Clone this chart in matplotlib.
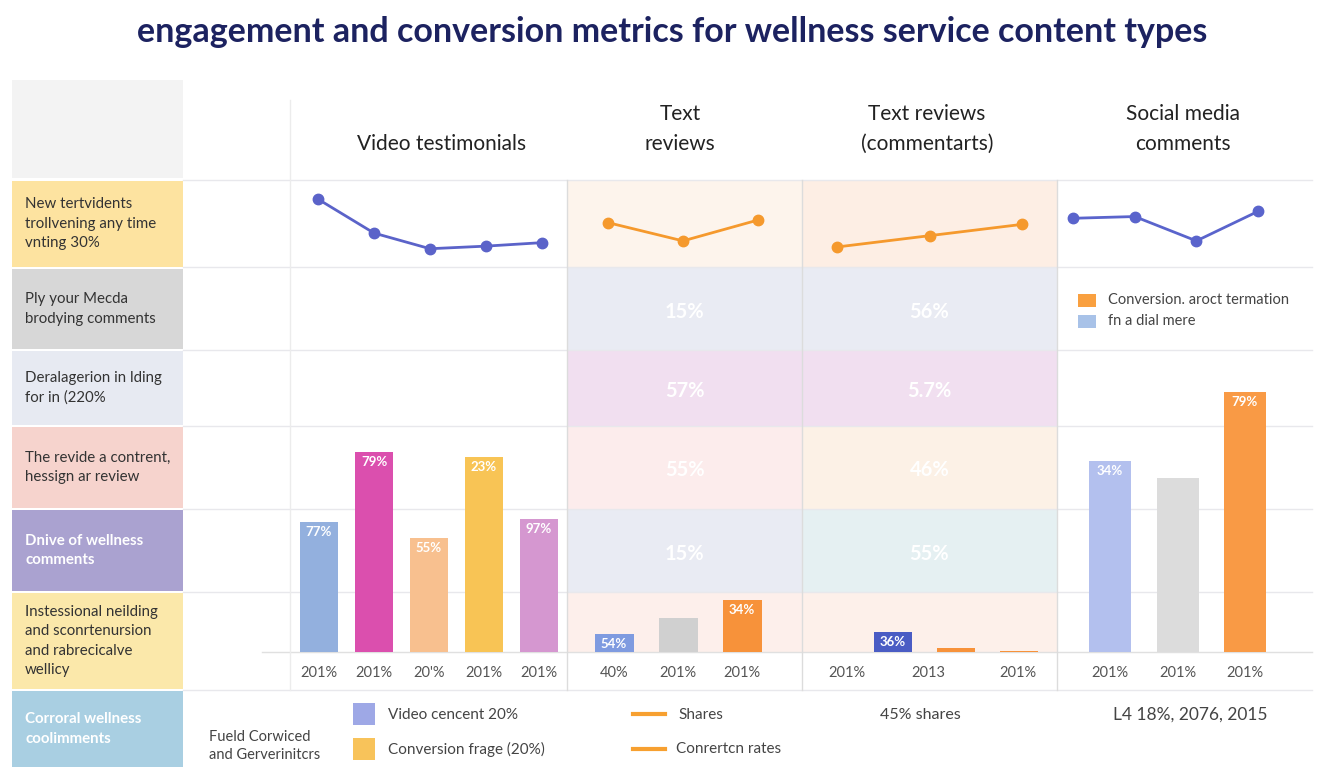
import matplotlib.pyplot as plt
from matplotlib.patches import Rectangle

W, H = 1344, 768

plt.rcParams['font.family'] = ['Lato', 'DejaVu Sans']

title = "engagement and conversion metrics for wellness service content types"

row_labels = [
    "New tertvidents\ntrollvening any time\nvnting 30%",
    "Ply your Mecda\nbrodying comments",
    "Deralagerion in lding\nfor in (220%",
    "The revide a contrent,\nhessign ar review",
    "Dnive of wellness\ncomments",
    "Instessional neilding\nand sconrtenursion\nand rabrecicalve\nwellicy",
    "Corroral wellness\ncoolimments",
]
row_colors = ["#fde3a0", "#d7d7d7", "#e7eaf2", "#f6d3cd", "#aaa2d0", "#fbe8aa", "#a9cfe2"]
row_text_white = [False, False, False, False, True, False, True]

col_headers = ["Video testimonials", "Text\nreviews", "Text reviews\n(commentarts)", "Social media\ncomments"]

# row 1: small trend lines
video_line = [78, 39, 21, 24, 28]
text_line = [51, 30, 54]
comment_line = [23, 36, 49]
social_line = [56, 58, 30, 64]

# rows 2-5: shaded percentage cells
text_cells = ["15%", "57%", "55%", "15%"]
comment_cells = ["56%", "5.7%", "46%", "55%"]

# bottom bars
video_bars = [50, 77, 44, 75, 51]
video_bar_labels = ["77%", "79%", "55%", "23%", "97%"]
video_ticks = ["201%", "201%", "20'%", "201%", "201%"]
video_colors = ["#93b0de", "#db4fae", "#f8c08f", "#f8c455", "#d597d0"]

text_bars = [7, 13, 20]
text_bar_labels = ["54%", "", "34%"]
text_ticks = ["40%", "201%", "201%"]
text_colors = ["#7f9be0", "#d0d0d0", "#f7923a"]

comment_bars = [7.7, 1.5, 0.5]
comment_bar_labels = ["36%", "", ""]
comment_ticks = ["201%", "2013", "201%"]
comment_colors = ["#4a5cc4", "#f7923a", "#f7923a"]

social_bars = [73.5, 67, 100]
social_bar_labels = ["34%", "", "79%"]
social_ticks = ["201%", "201%", "201%"]
social_colors = ["#b3c0ee", "#dcdcdc", "#f99a45"]

fig = plt.figure(figsize=(W / 100, H / 100), dpi=100)
bg = fig.add_axes([0, 0, 1, 1], zorder=0)
bg.set_xlim(0, W)
bg.set_ylim(H, 0)
bg.axis("off")

fig.text(0.5, 1 - 32 / H, title, ha="center", va="center", fontsize=24.5,
         fontweight="bold", color="#1c2260")

# left label column
rows_y = [180, 268, 350, 426, 509, 592, 690, 768]
bg.add_patch(Rectangle((12, 80), 171, 98, color="#f3f3f3", lw=0))
for i, lab in enumerate(row_labels):
    y0, y1 = rows_y[i], rows_y[i + 1]
    bg.add_patch(Rectangle((12, y0 + 1), 171, y1 - y0 - 2, color=row_colors[i], lw=0))
    white = row_text_white[i]
    bg.text(25, (y0 + y1) / 2, lab, ha="left", va="center", fontsize=10.8,
            color="white" if white else "#333333",
            fontweight="bold" if white else "normal", linespacing=1.5)

cols_x = [290, 567, 802, 1057, 1312]

# shaded cells in the text review columns
cell_bg = [
    ["#fdf4ec", "#e9ebf3", "#f1dff0", "#fcecec", "#e9ebf3", "#fdefeb"],
    ["#fdeee4", "#e9ebf3", "#f1dff0", "#fcf1e6", "#e5f0f2", "#fdf0ea"],
]
cell_rows = [180, 268, 350, 426, 509, 592, 652]
for c, shades in enumerate(cell_bg):
    x0, x1 = cols_x[c + 1], cols_x[c + 2]
    for r, sh in enumerate(shades):
        y0, y1 = cell_rows[r], cell_rows[r + 1]
        bg.add_patch(Rectangle((x0, y0), x1 - x0, y1 - y0, color=sh, lw=0))
for c, vals in enumerate([text_cells, comment_cells]):
    xc = (cols_x[c + 1] + cols_x[c + 2]) / 2
    for r, v in enumerate(vals):
        yc = (cell_rows[r + 1] + cell_rows[r + 2]) / 2 + 3
        bg.text(xc, yc, v, ha="center", va="center", fontsize=14.5,
                fontweight="bold", color="white")

# grid lines
for y in [180, 267, 350, 426, 509, 592, 690]:
    bg.plot([183, 1312], [y, y], color="#e8e8ec", lw=1)
bg.plot([262, 1312], [652, 652], color="#e0e0e0", lw=1)
bg.plot([290, 290], [100, 690], color="#ececec", lw=1)
for x in cols_x[1:4]:
    bg.plot([x, x], [180, 690], color="#dcdcdc", lw=1)

# column headers
header_pos = [(442, 144), (680, 129), (927, 129), (1183, 129)]
for (x, y), h in zip(header_pos, col_headers):
    bg.text(x, y, h, ha="center", va="center", fontsize=15, color="#222222",
            linespacing=1.65)


def panel(x0, x1, y0, y1):
    ax = fig.add_axes([x0 / W, 1 - y1 / H, (x1 - x0) / W, (y1 - y0) / H], zorder=2)
    ax.set_facecolor("none")
    for s in ax.spines.values():
        s.set_visible(False)
    ax.tick_params(length=0)
    ax.set_yticks([])
    return ax


def line_panel(x0, x1, first, step, vals, color):
    ax = panel(x0, x1, 180, 267)
    n = len(vals)
    ax.set_xlim(-(first - x0) / step, n - 1 + (x1 - (first + step * (n - 1))) / step)
    ax.set_ylim(0, 100)
    ax.plot(range(n), vals, color=color, lw=2, marker="o", ms=7.5)
    ax.set_xticks([])


line_panel(290, 567, 318, 56, video_line, "#5b63c9")
line_panel(567, 802, 608, 75, text_line, "#f5992d")
line_panel(802, 1057, 837, 92.5, comment_line, "#f5992d")
line_panel(1057, 1312, 1073, 61.7, social_line, "#5a64cc")


def bar_panel(x0, x1, first, step, vals, labels, colors, ticks, width, tickpos=None):
    ax = panel(x0, x1, 392, 652)
    n = len(vals)
    ax.set_xlim(-(first - x0) / step, n - 1 + (x1 - (first + step * (n - 1))) / step)
    ax.set_ylim(0, 100)
    rects = ax.bar(range(n), vals, width=width / step, color=colors)
    for r, lab in zip(rects, labels):
        if lab:
            ax.text(r.get_x() + r.get_width() / 2, r.get_height() - 1.5, lab,
                    ha="center", va="top", fontsize=9.5, fontweight="bold",
                    color="white")
    if tickpos is None:
        tickpos = range(n)
    ax.set_xticks(list(tickpos), ticks)
    ax.tick_params(axis="x", labelsize=10.5, labelcolor="#555555", pad=10)


bar_panel(290, 567, 319, 55, video_bars, video_bar_labels, video_colors, video_ticks, 38)
bar_panel(567, 802, 614, 64, text_bars, text_bar_labels, text_colors, text_ticks, 39)
bar_panel(802, 1057, 893, 63, comment_bars, comment_bar_labels, comment_colors,
          comment_ticks, 38, tickpos=[-0.73, 0.56, 1.98])
bar_panel(1057, 1312, 1110, 67.5, social_bars, social_bar_labels, social_colors, social_ticks, 42)

# small legend in social column
bg.add_patch(Rectangle((1078, 294), 18, 13, color="#f9a040", lw=0))
bg.add_patch(Rectangle((1078, 315), 18, 13, color="#a8c2e8", lw=0))
bg.text(1108, 300, "Conversion. aroct termation", va="center", fontsize=10.5, color="#444444")
bg.text(1108, 321, "fn a dial mere", va="center", fontsize=10.5, color="#444444")

# bottom legend row
bg.text(209, 746, "Fueld Corwiced\nand Gerverinitcrs", va="center", fontsize=10.5,
        color="#444444", linespacing=1.3)
bg.add_patch(Rectangle((353, 703), 22, 22, color="#9ea8e6", lw=0))
bg.add_patch(Rectangle((353, 738), 22, 22, color="#f8c35a", lw=0))
bg.text(388, 715, "Video cencent 20%", va="center", fontsize=11, color="#444444")
bg.text(388, 749, "Conversion frage (20%)", va="center", fontsize=11, color="#444444")
bg.plot([633, 665], [714, 714], color="#f7a030", lw=3)
bg.plot([633, 665], [749, 749], color="#f7a030", lw=3)
bg.text(678, 715, "Shares", va="center", fontsize=11, color="#444444")
bg.text(676, 749, "Conrertcn rates", va="center", fontsize=11, color="#444444")
bg.text(920, 715, "45% shares", ha="center", va="center", fontsize=11.5, color="#444444")
bg.text(1190, 715, "L4 18%, 2076, 2015", ha="center", va="center", fontsize=12.5, color="#444444")

fig.savefig("out.png", dpi=100)
